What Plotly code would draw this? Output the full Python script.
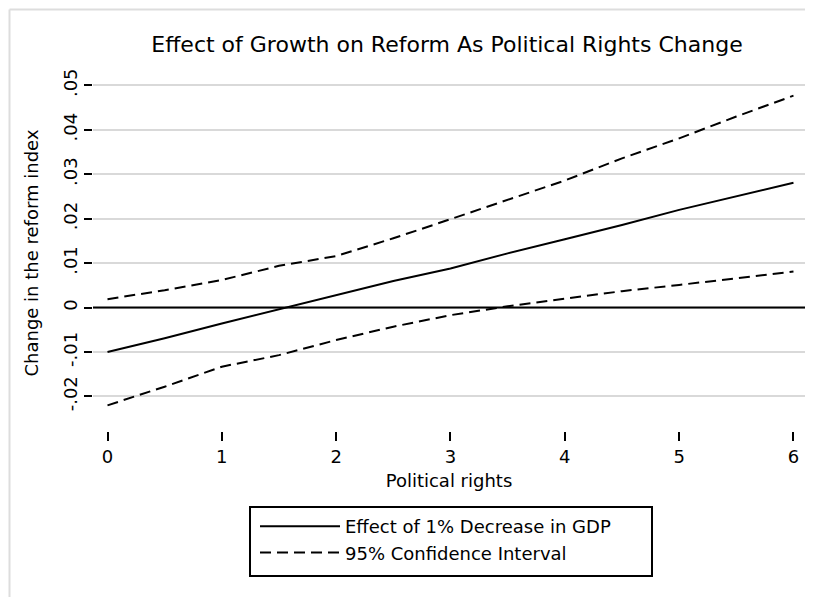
import plotly.graph_objects as go

# ---- data ----
political_rights = [0, 0.5, 1, 1.5, 2, 2.5, 3, 3.5, 4, 4.5, 5, 5.5, 6]
effect = [-0.0100, -0.0069, -0.0036, -0.0004, 0.0029, 0.0060, 0.0088,
          0.0122, 0.0154, 0.0186, 0.0220, 0.0250, 0.0281]
ci_upper = [0.0019, 0.0039, 0.0062, 0.0094, 0.0116, 0.0156, 0.0199,
            0.0242, 0.0286, 0.0336, 0.0381, 0.0430, 0.0477]
ci_lower = [-0.0220, -0.0178, -0.0133, -0.0107, -0.0073, -0.0043, -0.0017,
            0.0003, 0.0020, 0.0037, 0.0051, 0.0066, 0.0081]

x_ticks = [0, 1, 2, 3, 4, 5, 6]
y_ticks = [-0.02, -0.01, 0, 0.01, 0.02, 0.03, 0.04, 0.05]
y_ticklabels = ["-.02", "-.01", "0", ".01", ".02", ".03", ".04", ".05"]

title = "Effect of Growth on Reform As Political Rights Change"
x_title = "Political rights"
y_title = "Change in the reform index"
name_effect = "Effect of 1% Decrease in GDP"
name_ci = "95% Confidence Interval"

FONT = "DejaVu Sans"
FS = 18
OFF = 8  # page body margin
W, H = 813, 597
L, R, T, B = 93 - OFF, 8 + OFF, 75 - OFF, 166 + OFF
PW, PH = W - L - R, H - T - B

def px_x(p):
    return (p - OFF - L) / PW

def px_y(p):
    return (H - B - (p - OFF)) / PH

fig = go.Figure()
fig.add_trace(go.Scatter(x=political_rights, y=effect, mode="lines",
                         name=name_effect,
                         line=dict(color="black", width=2)))
fig.add_trace(go.Scatter(x=political_rights, y=ci_upper, mode="lines",
                         name=name_ci, legendgroup="ci",
                         line=dict(color="black", width=2, dash="11px,6px")))
fig.add_trace(go.Scatter(x=political_rights, y=ci_lower, mode="lines",
                         name=name_ci, legendgroup="ci", showlegend=False,
                         line=dict(color="black", width=2, dash="11px,6px")))

shapes = [
    # zero reference line
    dict(type="line", xref="paper", yref="y", x0=0, x1=1, y0=0, y1=0,
         line=dict(color="black", width=2), layer="above"),
    # outer faint frame (left and top)
    dict(type="line", xref="paper", yref="paper", x0=px_x(9.5), x1=px_x(9.5),
         y0=px_y(9.5), y1=px_y(610), line=dict(color="#dddddd", width=2)),
    dict(type="line", xref="paper", yref="paper", x0=px_x(9.5), x1=px_x(830),
         y0=px_y(9.5), y1=px_y(9.5), line=dict(color="#dddddd", width=2)),
    # legend frame
    dict(type="rect", xref="paper", yref="paper", x0=px_x(250), x1=px_x(652),
         y0=px_y(576), y1=px_y(507), line=dict(color="black", width=2),
         fillcolor="rgba(0,0,0,0)"),
]

fig.update_layout(
    width=W, height=H,
    margin=dict(l=L, r=R, t=T, b=B, autoexpand=False),
    paper_bgcolor="white", plot_bgcolor="white",
    font=dict(family=FONT, size=FS, color="black"),
    title=dict(text=title, x=px_x(447), xref="paper", xanchor="center",
               y=1 - (44 - OFF) / H, yanchor="middle",
               font=dict(family=FONT, size=22, color="black")),
    shapes=shapes,
    showlegend=True,
    legend=dict(x=px_x(255), xanchor="left", y=px_y(508), yanchor="top",
                borderwidth=0, bgcolor="rgba(0,0,0,0)",
                itemwidth=80,
                font=dict(family=FONT, size=FS, color="black"),
                tracegroupgap=0),
)

fig.update_xaxes(
    range=[(93 - 107.5) / 114.33, (805 - 107.5) / 114.33],
    tickvals=x_ticks, ticktext=[str(v) for v in x_ticks],
    ticks="outside", ticklen=9, tickwidth=1.5, tickcolor="black",
    showgrid=False, zeroline=False, showline=False, automargin=False,
    title=dict(text=x_title, standoff=8, font=dict(size=FS)),
    tickfont=dict(size=FS),
)
fig.update_yaxes(
    range=[(307.6 - 431) / 4443, (307.6 - 75) / 4443],
    tickvals=y_ticks, ticktext=y_ticklabels, tickangle=-90,
    ticks="outside", ticklen=8, tickwidth=1.5, tickcolor="black",
    showgrid=True, gridcolor="#d9d9d9", gridwidth=2,
    zeroline=False, showline=False, automargin=False,
    title=dict(text=y_title, standoff=16, font=dict(size=FS)),
    tickfont=dict(size=FS),
)

fig.write_html("out.html")
